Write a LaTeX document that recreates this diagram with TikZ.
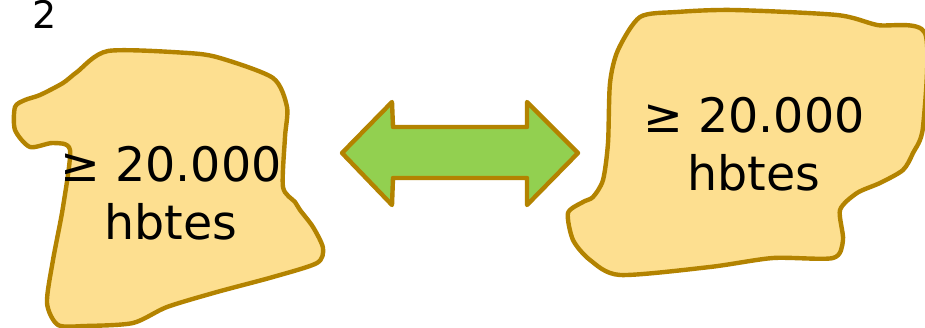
\documentclass[tikz,border=0pt]{standalone}
\usepackage{fontspec}
\setmainfont{DejaVu Sans}
\definecolor{blobfill}{HTML}{FDDF90}
\definecolor{blobline}{HTML}{B38300}
\definecolor{arrowfill}{HTML}{92D050}
\begin{document}
\begin{tikzpicture}[x=1pt,y=-1pt,
  blob/.style={fill=blobfill,draw=blobline,line width=4.4pt,line join=round},
  bigtext/.style={font=\fontsize{47.5}{58}\selectfont,align=center,inner sep=0pt}]
\useasboundingbox (0,0) rectangle (925,328);
% left blob
\draw[blob] plot[smooth cycle,tension=0.45] coordinates {
 (108,51) (188,53) (220,58) (273,78) (287,107) (285,137) (283,187)
 (295,202) (300,210) (313,227) (323,248) (317,263) (273,277) (217,292) (167,307)
 (133,323) (85,326) (58,325) (47,303) (53,260) (63,207) (70,150)
 (53,143) (30,147) (15,130) (15,107) (25,100) (40,95) (63,83) (77,72)};
% right blob
\draw[blob] plot[smooth cycle,tension=0.45] coordinates {
 (640,17) (677,12) (733,10) (837,15) (877,25) (925,33) (923,127)
 (913,153) (903,170) (880,183) (857,193) (840,210) (843,240) (833,258)
 (773,258) (710,267) (620,275) (590,260) (573,240) (568,213) (583,202)
 (593,197) (603,180) (608,143) (610,83) (618,50)};
% double arrow
\draw[fill=arrowfill,draw=blobline,line width=4.4pt,line join=round]
 (342,153) -- (392,102) -- (393,127) -- (527,127) -- (527,102) -- (578,153)
 -- (527,205) -- (527,178) -- (393,178) -- (392,205) -- cycle;
\node[font=\fontsize{38}{44}\selectfont,inner sep=0pt] (num) at (45,14) {2};
\node[bigtext] (lefttext) at (171,193) {≥ 20.000\\hbtes};
\node[bigtext] (righttext) at (754,144) {≥ 20.000\\hbtes};
\end{tikzpicture}
\end{document}
